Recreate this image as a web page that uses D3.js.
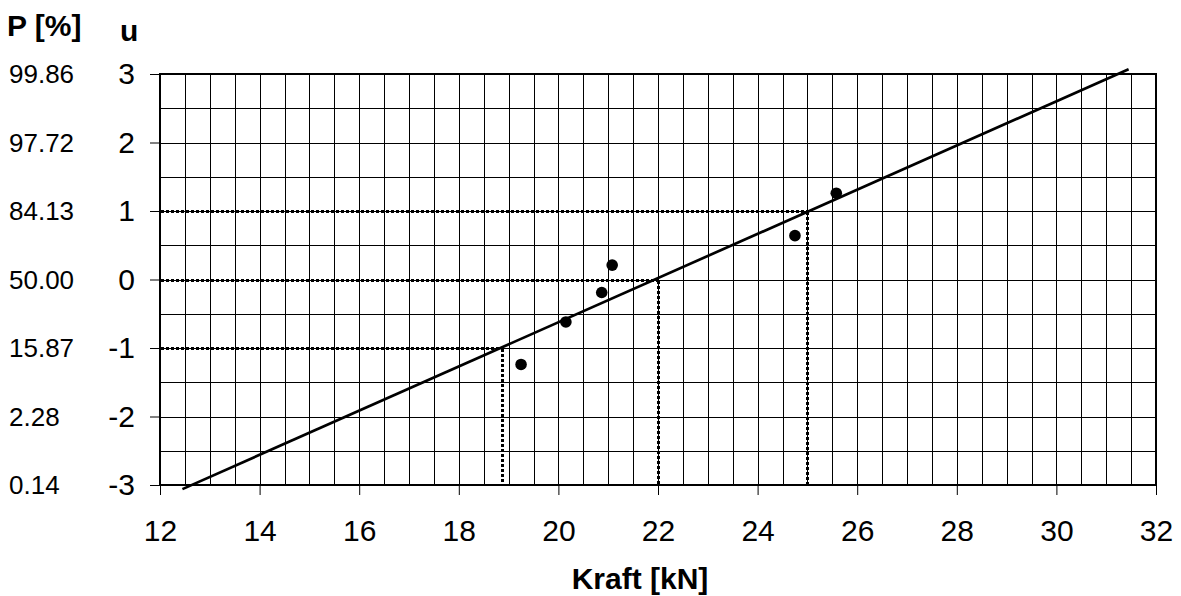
<!DOCTYPE html>
<html>
<head>
<meta charset="utf-8">
<script src="https://cdn.jsdelivr.net/npm/d3@7"></script>
<style>
  body { margin: 0; background: #fff; }
  text { font-family: "Liberation Sans", Arial, sans-serif; fill: #000; }
</style>
</head>
<body>
<div id="chart"></div>
<script>
// Messwerte (Kraft, u)
const kraft = [19.25, 20.15, 20.87, 21.08, 24.75, 25.58];
const uWerte = [-1.24, -0.62, -0.19, 0.21, 0.64, 1.26];

// Ausgleichsgerade, Endpunkte
const lineKraft = [12.45, 31.45];
const lineU = [-3.06, 3.07];

// gestrichelte Hilfslinien
const hilfKraft = [18.86, 22, 25];
const hilfU = [-1, 0, 1];

// Achsenbeschriftung
const uTicks = [-3, -2, -1, 0, 1, 2, 3];
const pLabels = ["0.14", "2.28", "15.87", "50.00", "84.13", "97.72", "99.86"];
const xTicks = [12, 14, 16, 18, 20, 22, 24, 26, 28, 30, 32];

const width = 1181, height = 596;
const margin = { left: 160, right: 25, top: 74, bottom: 111 };

const svg = d3.select("#chart").append("svg")
  .attr("width", width).attr("height", height);

const x = d3.scaleLinear().domain([12, 32]).range([margin.left, width - margin.right]);
const y = d3.scaleLinear().domain([-3, 3]).range([height - margin.bottom, margin.top]);

// Gitter alle 0.5
const grid = svg.append("g").attr("stroke", "#000").attr("stroke-width", 1);
d3.range(12.5, 32, 0.5).forEach(v => {
  grid.append("line").attr("x1", Math.round(x(v)) + 0.5).attr("x2", Math.round(x(v)) + 0.5)
    .attr("y1", y(-3)).attr("y2", y(3));
});
d3.range(-2.5, 3, 0.5).forEach(v => {
  grid.append("line").attr("y1", Math.round(y(v)) + 0.5).attr("y2", Math.round(y(v)) + 0.5)
    .attr("x1", x(12)).attr("x2", x(32));
});

// Rahmen
svg.append("rect")
  .attr("x", x(12)).attr("y", y(3))
  .attr("width", x(32) - x(12)).attr("height", y(-3) - y(3))
  .attr("fill", "none").attr("stroke", "#000").attr("stroke-width", 2);

// Achsen
const xAxis = svg.append("g")
  .attr("transform", `translate(0,${y(-3)})`)
  .call(d3.axisBottom(x).tickValues(xTicks).tickSize(10).tickPadding(25).tickFormat(d => String(d)));
xAxis.select(".domain").remove();
xAxis.selectAll("text").style("font-size", "30px");

const yAxis = svg.append("g")
  .attr("transform", `translate(${x(12)},0)`)
  .call(d3.axisLeft(y).tickValues(uTicks).tickSize(10).tickPadding(15).tickFormat(d => String(d)));
yAxis.select(".domain").remove();
yAxis.selectAll("text").style("font-size", "30px");

svg.selectAll(".tick line").attr("stroke", "#000").attr("stroke-width", 1);

// P-Skala
svg.append("g").selectAll("text")
  .data(uTicks)
  .join("text")
  .attr("x", 9)
  .attr("y", d => y(d))
  .attr("dy", "0.35em")
  .style("font-size", "26px")
  .text((d, i) => pLabels[i]);

// Titel
svg.append("text").attr("x", 7).attr("y", 36)
  .style("font-size", "30px").style("font-weight", "bold").text("P [%]");
svg.append("text").attr("x", 120).attr("y", 41)
  .style("font-size", "30px").style("font-weight", "bold").text("u");
svg.append("text").attr("x", 640).attr("y", 589)
  .attr("text-anchor", "middle")
  .style("font-size", "30px").style("font-weight", "bold").text("Kraft [kN]");

// Hilfslinien
const dotted = svg.append("g").attr("stroke", "#000").attr("stroke-width", 3)
  .attr("stroke-dasharray", "3,2").attr("fill", "none")
  .attr("shape-rendering", "crispEdges");
hilfKraft.forEach((k, i) => {
  const px = Math.round(x(k)) + 0.5, py = Math.round(y(hilfU[i])) + 0.5;
  dotted.append("line").attr("x1", x(12) + 1).attr("x2", px)
    .attr("y1", py).attr("y2", py);
  dotted.append("line").attr("x1", px).attr("x2", px)
    .attr("y1", py).attr("y2", y(-3));
});

// Ausgleichsgerade
svg.append("path")
  .datum(lineKraft.map((k, i) => [k, lineU[i]]))
  .attr("d", d3.line().x(d => x(d[0])).y(d => y(d[1])))
  .attr("stroke", "#000").attr("stroke-width", 2.7).attr("fill", "none");

// Messpunkte
svg.append("g").selectAll("circle")
  .data(kraft)
  .join("circle")
  .attr("cx", d => x(d))
  .attr("cy", (d, i) => y(uWerte[i]))
  .attr("r", 5.8)
  .attr("fill", "#000");
</script>
</body>
</html>
